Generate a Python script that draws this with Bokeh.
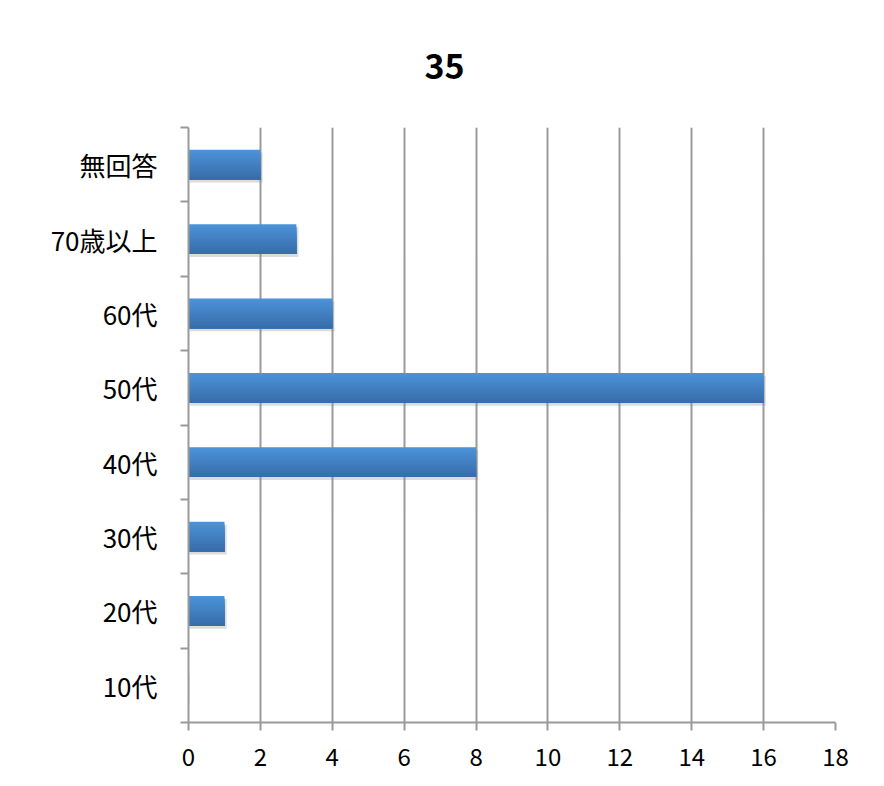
import numpy as np
from bokeh.plotting import figure
from bokeh.models import FixedTicker, ColumnDataSource
from bokeh.embed import file_html
from bokeh.resources import INLINE

categories = ["10代", "20代", "30代", "40代", "50代", "60代", "70歳以上", "無回答"]
counts = [0, 1, 1, 8, 16, 4, 3, 2]
x_ticks = [0, 2, 4, 6, 8, 10, 12, 14, 16, 18]
title_text = "35"

n = len(categories)
centers = [i + 0.5 for i in range(n)]
bounds = list(range(n + 1))

p = figure(width=868, height=778, output_backend="svg", toolbar_location=None,
           x_range=(0, 18), y_range=(0, n),
           min_border_left=188, min_border_right=33, min_border_top=127, min_border_bottom=56)
p.outline_line_color = None
p.background_fill_color = "white"
p.border_fill_color = "white"

# title
p.title.text = title_text
p.title.align = "left"
p.title.offset = 236
p.title.text_font = "Noto Sans CJK JP"
p.title.text_font_size = "34px"
p.title.text_font_style = "bold"
p.title.text_color = "black"
p.title.standoff = 97

bar_h = 0.4
# shadow
p.hbar(y=[c - 0.04 for c in centers], right=[v + 0.06 if v > 0 else 0 for v in counts], left=0.03,
       height=bar_h, color="#8a8a8a", alpha=0.3, line_color=None)

# gradient (overlapping strips, each extends to bar bottom)
top_c = np.array([0x4b, 0x92, 0xd8])
bot_c = np.array([0x38, 0x6d, 0xaa])
ns = 16
for k in range(ns):
    t = k / (ns - 1)
    col = top_c * (1 - t) + bot_c * t
    hexc = "#%02x%02x%02x" % tuple(int(round(c)) for c in col)
    h = bar_h * (ns - k) / ns
    ys = [c - bar_h / 2 + h / 2 for c in centers]
    src = ColumnDataSource(dict(y=ys, right=counts))
    p.hbar(y="y", right="right", left=0, height=h, source=src,
           color=hexc, line_color=None)

# axes
p.xgrid.ticker = FixedTicker(ticks=x_ticks)
p.xgrid.grid_line_color = "#9a9a9a"
p.xgrid.grid_line_width = 2
p.ygrid.grid_line_color = None

p.xaxis.ticker = FixedTicker(ticks=x_ticks)
p.xaxis.axis_line_color = "#9a9a9a"
p.xaxis.axis_line_width = 2
p.xaxis.major_tick_line_color = "#9a9a9a"
p.xaxis.major_tick_line_width = 2
p.xaxis.major_tick_out = 8
p.xaxis.major_tick_in = 0
p.xaxis.minor_tick_line_color = None
p.xaxis.major_label_text_font = "Noto Sans CJK JP"
p.xaxis.major_label_text_font_size = "24px"
p.xaxis.major_label_text_color = "black"
p.xaxis.major_label_standoff = 17

p.yaxis.ticker = FixedTicker(ticks=centers, minor_ticks=bounds)
p.yaxis.major_label_overrides = {c: lab for c, lab in zip(centers, categories)}
p.yaxis.axis_line_color = "#9a9a9a"
p.yaxis.axis_line_width = 2
p.yaxis.major_tick_line_color = None
p.yaxis.major_tick_out = 0
p.yaxis.major_tick_in = 0
p.yaxis.minor_tick_line_color = "#9a9a9a"
p.yaxis.minor_tick_line_width = 2
p.yaxis.minor_tick_out = 8
p.yaxis.minor_tick_in = 0
p.yaxis.major_label_text_font = "Noto Sans CJK JP"
p.yaxis.major_label_text_font_size = "26px"
p.yaxis.major_label_text_color = "black"
p.yaxis.major_label_standoff = 23

open("out.html", "w").write(file_html(p, INLINE))
